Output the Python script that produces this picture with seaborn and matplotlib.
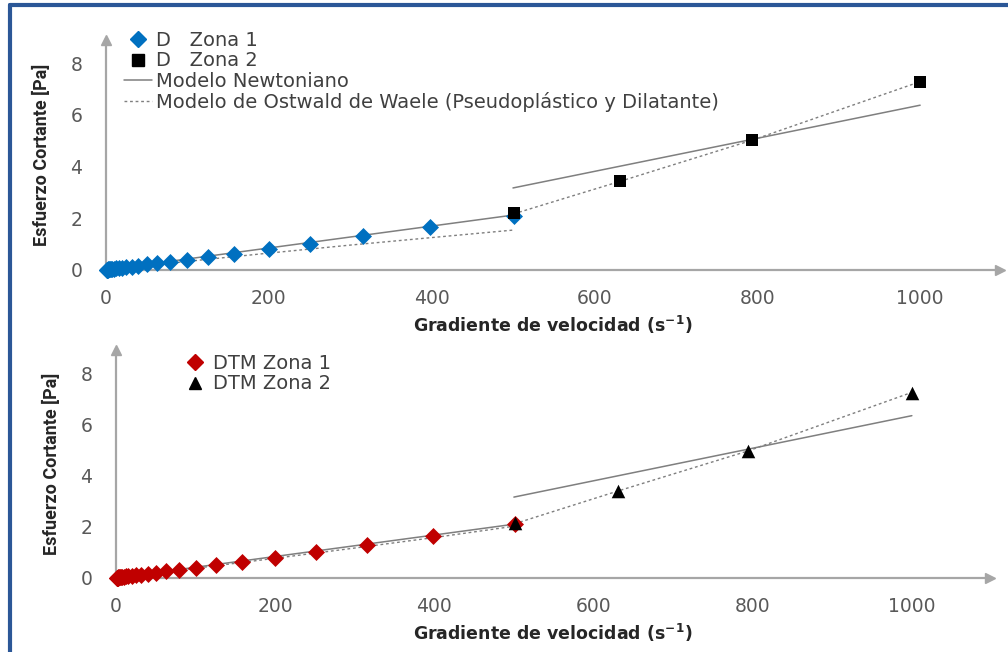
import matplotlib
matplotlib.use('Agg')
import matplotlib.pyplot as plt
from matplotlib import font_manager
from matplotlib.lines import Line2D
import numpy as np
import pandas as pd
import seaborn as sns

sns.set_style('white')
plt.rcParams['font.family'] = ['DejaVu Sans']

# fuente estrecha para la etiqueta del eje y (si existe)
nombres = {f.name for f in font_manager.fontManager.ttflist}
fuente_y = 'Roboto' if 'Roboto' in nombres else 'DejaVu Sans'

# gradiente de velocidad (s-1)
x_zona1 = [1, 1.26, 1.58, 2, 2.51, 3.16, 3.98, 5.01, 6.31, 7.94, 10, 12.6, 15.8, 20,
           25.1, 31.6, 39.8, 50.1, 63.1, 79.4, 100, 126, 158, 200, 251, 316, 398, 501]
x_zona2 = [501, 631, 794, 1000]

# muestra D
d_zona1 = [0.01, 0.01, 0.01, 0.01, 0.01, 0.02, 0.02, 0.02, 0.03, 0.04, 0.05, 0.06, 0.07, 0.09,
           0.11, 0.13, 0.17, 0.21, 0.26, 0.32, 0.40, 0.50, 0.62, 0.79, 1.00, 1.30, 1.66, 2.10]
d_zona2 = [2.20, 3.42, 5.02, 7.26]
# modelos D
d_newt1_x, d_newt1_y = [0, 500], [0.0, 2.12]
d_newt2_x, d_newt2_y = [500, 1000], [3.17, 6.37]
d_ost1_x = [0, 50, 100, 200, 300, 400, 500]
d_ost1_y = [0.0, 0.17, 0.33, 0.65, 0.96, 1.25, 1.54]
d_ost2_x = [501, 631, 794, 1000]
d_ost2_y = [2.17, 3.42, 5.02, 7.28]

# muestra DTM
dtm_zona1 = [0.01, 0.01, 0.01, 0.01, 0.01, 0.02, 0.02, 0.02, 0.03, 0.04, 0.05, 0.06, 0.07, 0.09,
             0.11, 0.13, 0.17, 0.21, 0.26, 0.32, 0.40, 0.50, 0.62, 0.78, 1.00, 1.27, 1.64, 2.12]
dtm_zona2 = [2.15, 3.40, 4.96, 7.23]
dtm_newt1_x, dtm_newt1_y = [0, 500], [0.0, 2.10]
dtm_newt2_x, dtm_newt2_y = [500, 1000], [3.16, 6.34]
dtm_ost1_x = [0, 100, 200, 300, 400, 500]
dtm_ost1_y = [0.0, 0.38, 0.77, 1.17, 1.58, 2.02]
dtm_ost2_x = [501, 631, 794, 1000]
dtm_ost2_y = [2.12, 3.40, 4.96, 7.25]

xticks = [0, 200, 400, 600, 800, 1000]
yticks = [0, 2, 4, 6, 8]

gris_eje = '#A6A6A6'
gris_linea = '#7F7F7F'
gris_texto = '#595959'

fig = plt.figure(figsize=(10.08, 6.52), dpi=100)
ax1 = fig.add_axes([0.105, 0.586, 0.887, 0.353])
ax2 = fig.add_axes([0.115, 0.1135, 0.867, 0.3495])


def dibujar(ax, xz1, yz1, xz2, yz2, n1, n2, o1, o2, col1, mk1, mk2):
    sns.lineplot(x=n1[0], y=n1[1], ax=ax, color=gris_linea, lw=1.1, errorbar=None, zorder=2)
    sns.lineplot(x=n2[0], y=n2[1], ax=ax, color=gris_linea, lw=1.1, errorbar=None, zorder=2)
    sns.lineplot(x=o1[0], y=o1[1], ax=ax, color=gris_linea, lw=1.0,
                 linestyle=(0, (2, 2)), errorbar=None, zorder=2)
    sns.lineplot(x=o2[0], y=o2[1], ax=ax, color=gris_linea, lw=1.0,
                 linestyle=(0, (2, 2)), errorbar=None, zorder=2)
    sns.scatterplot(x=xz1, y=yz1, ax=ax, marker=mk1, color=col1, s=75, edgecolor=col1,
                    linewidth=0, clip_on=False, zorder=3)
    s2 = 85 if mk2 == 's' else 95
    sns.scatterplot(x=xz2, y=yz2, ax=ax, marker=mk2, color='black', s=s2, edgecolor='black',
                    linewidth=0, clip_on=False, zorder=4)

    ax.set_xlim(0, 1098)
    ax.set_ylim(0, 8.9)
    ax.set_xticks(xticks)
    ax.set_yticks(yticks)
    for lado in ['top', 'right']:
        ax.spines[lado].set_visible(False)
    for lado in ['left', 'bottom']:
        ax.spines[lado].set_color(gris_eje)
        ax.spines[lado].set_linewidth(1.6)
    ax.tick_params(axis='both', direction='in', length=6, width=1.2, color=gris_eje,
                   labelsize=13.5, labelcolor=gris_texto)
    ax.tick_params(axis='x', pad=14)
    ax.tick_params(axis='y', pad=17)
    ax.plot(1, 0, '>', transform=ax.transAxes, clip_on=False, color=gris_eje, ms=7)
    ax.plot(0, 1, '^', transform=ax.transAxes, clip_on=False, color=gris_eje, ms=7)
    ax.set_xlabel(r'Gradiente de velocidad $\mathbf{(s^{-1})}$', fontsize=12.5,
                  fontweight='bold', color='#262626', labelpad=4)
    ax.set_ylabel('Esfuerzo Cortante [Pa]', fontsize=13, fontweight='bold',
                  family=fuente_y, color='#262626', labelpad=14)


dibujar(ax1, x_zona1, d_zona1, x_zona2, d_zona2,
        (d_newt1_x, d_newt1_y), (d_newt2_x, d_newt2_y),
        (d_ost1_x, d_ost1_y), (d_ost2_x, d_ost2_y),
        '#0070C0', 'D', 's')
dibujar(ax2, x_zona1, dtm_zona1, x_zona2, dtm_zona2,
        (dtm_newt1_x, dtm_newt1_y), (dtm_newt2_x, dtm_newt2_y),
        (dtm_ost1_x, dtm_ost1_y), (dtm_ost2_x, dtm_ost2_y),
        '#C00000', 'D', '^')

h1 = [Line2D([], [], ls='none', marker='D', color='#0070C0', ms=8),
      Line2D([], [], ls='none', marker='s', color='black', ms=9),
      Line2D([], [], color=gris_linea, lw=1.1),
      Line2D([], [], color=gris_linea, lw=1.0, linestyle=(0, (2, 2)))]
l1 = ['D   Zona 1', 'D   Zona 2', 'Modelo Newtoniano',
      'Modelo de Ostwald de Waele (Pseudoplástico y Dilatante)']
fig.legend(h1, l1, loc='upper left', bbox_to_anchor=(124 / 1008, 1 - 31 / 652),
           frameon=False, fontsize=14, handlelength=1.45, handletextpad=0.2,
           labelspacing=0.07, borderpad=0, borderaxespad=0, labelcolor='#404040')

h2 = [Line2D([], [], ls='none', marker='D', color='#C00000', ms=8),
      Line2D([], [], ls='none', marker='^', color='black', ms=9)]
l2 = ['DTM Zona 1', 'DTM Zona 2']
fig.legend(h2, l2, loc='upper left', bbox_to_anchor=(181 / 1008, 1 - 354 / 652),
           frameon=False, fontsize=14, handlelength=1.45, handletextpad=0.2,
           labelspacing=0.07, borderpad=0, borderaxespad=0, labelcolor='#404040')

# marco azul de la figura
azul = '#2B5797'
fig.add_artist(Line2D([10 / 1008, 1], [1 - 5 / 652, 1 - 5 / 652], color=azul, lw=3,
                      transform=fig.transFigure))
fig.add_artist(Line2D([10 / 1008, 10 / 1008], [0, 1 - 5 / 652], color=azul, lw=3,
                      transform=fig.transFigure))

fig.savefig('out.png', dpi=100)
